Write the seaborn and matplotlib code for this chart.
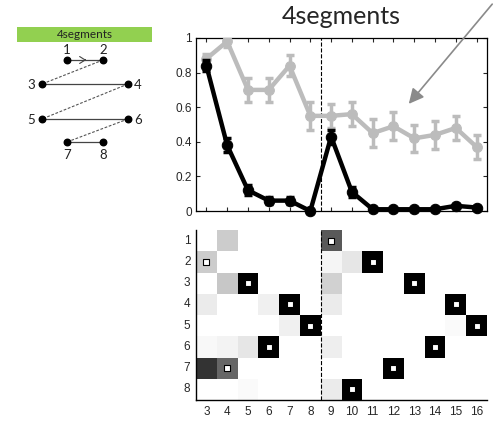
import numpy as np
import pandas as pd
import matplotlib
matplotlib.use("Agg")
import matplotlib.pyplot as plt
import seaborn as sns

# data
positions = list(range(3, 17))
black_mean = [0.84, 0.38, 0.12, 0.06, 0.06, 0.0, 0.43, 0.11, 0.01, 0.01, 0.01, 0.01, 0.03, 0.02]
black_err = [0.03, 0.04, 0.03, 0.02, 0.02, 0.01, 0.04, 0.03, 0.01, 0.01, 0.01, 0.01, 0.01, 0.01]
gray_mean = [0.88, 0.98, 0.70, 0.70, 0.84, 0.55, 0.55, 0.56, 0.45, 0.49, 0.42, 0.44, 0.48, 0.37]
gray_err = [0.03, 0.03, 0.07, 0.07, 0.06, 0.08, 0.07, 0.07, 0.08, 0.08, 0.08, 0.08, 0.07, 0.07]

row_labels = [1, 2, 3, 4, 5, 6, 7, 8]
heat_values = [
    [0.00, 0.20, 0.00, 0.00, 0.00, 0.00, 0.65, 0.00, 0.00, 0.00, 0.00, 0.00, 0.00, 0.00],
    [0.20, 0.00, 0.00, 0.00, 0.00, 0.00, 0.04, 0.10, 1.00, 0.00, 0.00, 0.00, 0.00, 0.00],
    [0.00, 0.22, 1.00, 0.00, 0.00, 0.00, 0.18, 0.00, 0.00, 0.00, 1.00, 0.00, 0.00, 0.00],
    [0.08, 0.00, 0.00, 0.06, 1.00, 0.00, 0.08, 0.00, 0.00, 0.00, 0.00, 0.00, 1.00, 0.00],
    [0.00, 0.00, 0.00, 0.00, 0.06, 1.00, 0.00, 0.00, 0.00, 0.00, 0.00, 0.00, 0.02, 1.00],
    [0.03, 0.05, 0.10, 1.00, 0.00, 0.00, 0.07, 0.00, 0.00, 0.00, 0.00, 1.00, 0.00, 0.00],
    [0.80, 0.60, 0.00, 0.00, 0.00, 0.00, 0.00, 0.00, 0.00, 1.00, 0.00, 0.00, 0.00, 0.00],
    [0.00, 0.00, 0.02, 0.00, 0.00, 0.00, 0.08, 1.00, 0.00, 0.00, 0.00, 0.00, 0.00, 0.00],
]
# correct target for each position
targets = [2, 7, 3, 6, 4, 5, 1, 8, 2, 7, 3, 6, 4, 5]

# sequence diagram (schematic node layout)
node_names = ["1", "2", "3", "4", "5", "6", "7", "8"]
node_x = [67, 103, 42, 128, 42, 128, 67, 103]
node_y = [60, 60, 84, 84, 119, 119, 142, 142]

sns.set_style("white")
plt.rcParams['font.family'] = ['Liberation Sans', 'DejaVu Sans']

W, H = 495, 438
fig = plt.figure(figsize=(W / 100, H / 100), dpi=100)


def box(x0, y0, x1, y1):
    return [x0 / W, 1 - y1 / H, (x1 - x0) / W, (y1 - y0) / H]


# ---- top panel: accuracy curves
ax = fig.add_axes(box(196, 38, 487, 211))
df = pd.DataFrame({"pos": positions, "gray": gray_mean, "black": black_mean})
ax.errorbar(positions, gray_mean, yerr=gray_err, fmt='none', ecolor='#bcbcbc',
            elinewidth=2.5, capsize=3, capthick=2.5, zorder=2)
sns.lineplot(data=df, x="pos", y="gray", ax=ax, color='#bcbcbc', lw=3.2,
             marker='o', markersize=7, markeredgecolor='#bcbcbc', zorder=3)
ax.errorbar(positions, black_mean, yerr=black_err, fmt='none', ecolor='black',
            elinewidth=2.5, capsize=3, capthick=2.5, zorder=4, clip_on=False)
sns.lineplot(data=df, x="pos", y="black", ax=ax, color='black', lw=3.2,
             marker='o', markersize=7.5, markeredgecolor='black', zorder=5, clip_on=False)
ax.axvline(8.5, color='black', ls='--', lw=0.8, zorder=1)
ax.set_xlim(2.5, 16.5)
ax.set_ylim(0, 1)
ax.set_xticks(positions)
ax.set_xticklabels([])
ax.set_yticks([0, 0.2, 0.4, 0.6, 0.8, 1])
ax.set_yticklabels(["0", "0.2", "0.4", "0.6", "0.8", "1"])
ax.tick_params(direction='in', length=3, width=0.8, top=True, right=True,
               bottom=True, left=True, labelsize=8.5, pad=3)
ax.set_xlabel("")
ax.set_ylabel("")
for s in ax.spines.values():
    s.set_linewidth(0.9)
    s.set_color('black')
ax.set_title("4segments", fontsize=18, family=['Lato', 'DejaVu Sans'], pad=10)

# ---- bottom panel: response matrix
ax2 = fig.add_axes(box(196, 230, 487, 400))
heat = pd.DataFrame(heat_values, index=row_labels, columns=positions)
sns.heatmap(heat, ax=ax2, cmap='gray_r', vmin=0, vmax=1, cbar=False,
            linewidths=0, square=False)
col_idx = np.arange(len(positions)) + 0.5
row_idx = np.array(targets) - 0.5
ax2.scatter(col_idx, row_idx, marker='s', s=14, facecolor='white',
            edgecolor='black', linewidths=0.8, zorder=5)
ax2.axvline(6, color='black', ls='--', lw=0.8)
ax2.set_xlabel("")
ax2.set_ylabel("")
ax2.tick_params(length=0, labelsize=8.5, pad=4)
ax2.set_yticklabels(row_labels, rotation=0)
ax2.set_xticklabels(positions, rotation=0)
for side in ['left', 'bottom']:
    ax2.spines[side].set_visible(True)
    ax2.spines[side].set_linewidth(1.0)
    ax2.spines[side].set_color('black')

# ---- overlay: arrow and sequence diagram
ov = fig.add_axes([0, 0, 1, 1])
ov.set_xlim(0, W)
ov.set_ylim(H, 0)
ov.axis('off')
ov.patch.set_alpha(0)

ov.annotate("", xy=(407, 106), xytext=(494, 2),
            arrowprops=dict(arrowstyle='-|>,head_length=0.9,head_width=0.45',
                            color='#8a8a8a', lw=1.2))

ov.add_patch(plt.Rectangle((17, 27), 135, 15, facecolor='#92d050',
                           edgecolor='none'))
ov.text(84.5, 34.5, "4segments", ha='center', va='center', fontsize=8.5,
        family=['Lato', 'DejaVu Sans'], color='#222222')

solid_pairs = [(0, 1), (2, 3), (4, 5), (6, 7)]
dash_pairs = [(1, 2), (3, 4), (5, 6)]
for a, b in solid_pairs:
    ov.plot([node_x[a], node_x[b]], [node_y[a], node_y[b]], color='#444444', lw=0.9)
for a, b in dash_pairs:
    ov.plot([node_x[a], node_x[b]], [node_y[a], node_y[b]], color='#555555',
            lw=0.8, ls=(0, (2.5, 1.5)))
ov.scatter(node_x, node_y, s=22, color='black', zorder=3)
ov.annotate("", xy=(89, 60), xytext=(82, 60),
            arrowprops=dict(arrowstyle='->,head_length=0.4,head_width=0.25',
                            color='#444444', lw=0.8))

label_dx = [0, 0, -11, 10, -11, 10, 0, 0]
label_dy = [-10, -10, 1, 1, 1, 1, 13, 13]
for name, x, y, dx, dy in zip(node_names, node_x, node_y, label_dx, label_dy):
    ov.text(x + dx, y + dy, name, ha='center', va='center', fontsize=9.5,
            family=['Lato', 'DejaVu Sans'], color='#222222')

fig.savefig("out.png", dpi=100)
